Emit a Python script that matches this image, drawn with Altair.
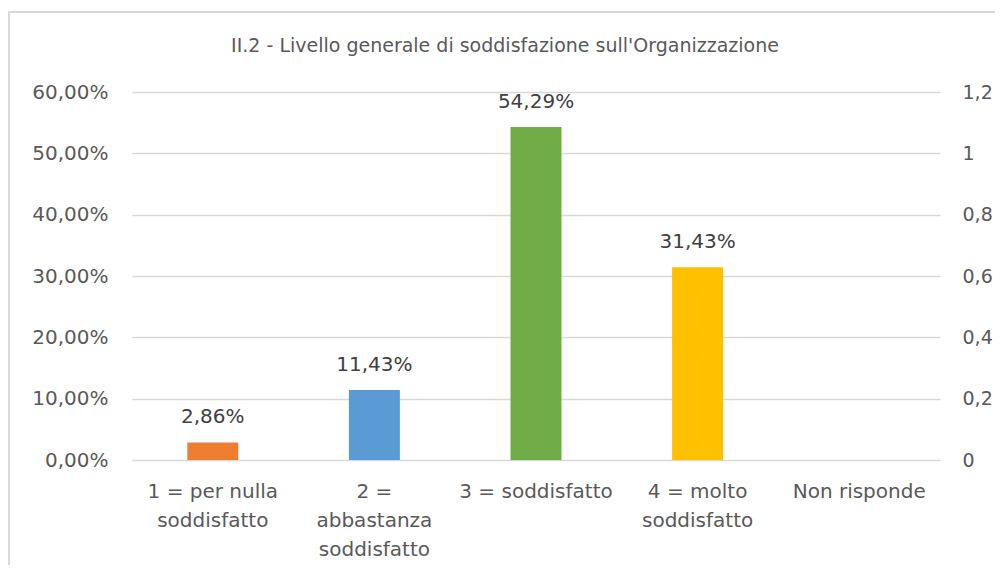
import altair as alt
import pandas as pd

categories = ["1 = per nulla soddisfatto", "2 = abbastanza soddisfatto", "3 = soddisfatto",
              "4 = molto soddisfatto", "Non risponde"]
label_lines = [["1 = per nulla", "soddisfatto"], ["2 =", "abbastanza", "soddisfatto"],
               ["3 = soddisfatto"], ["4 = molto", "soddisfatto"], ["Non risponde"]]
values = [0.0286, 0.1143, 0.5429, 0.3143, 0.0]
labels = ["2,86%", "11,43%", "54,29%", "31,43%", ""]
colors = ["#ED7D31", "#5B9BD5", "#70AD47", "#FFC000", "#A5A5A5"]
left_ticks = [0, 0.1, 0.2, 0.3, 0.4, 0.5, 0.6]
right_ticks = [0, 0.2, 0.4, 0.6, 0.8, 1.0, 1.2]

df = pd.DataFrame({"cat": categories, "value": values, "label": labels})
rdf = pd.DataFrame({"r": right_ticks})

FONT = "DejaVu Sans"
AX = "#595959"
GRID = "#D9D9D9"

label_expr_x = "{" + ", ".join(
    f"'{c}': [" + ", ".join(f"'{l}'" for l in ls) + "]" for c, ls in zip(categories, label_lines)
) + "}[datum.value]"

xenc = alt.X("cat:N", sort=categories, title=None,
             scale=alt.Scale(paddingInner=0, paddingOuter=0),
             axis=alt.Axis(labelAngle=0, labelExpr=label_expr_x, labelFont=FONT, labelFontSize=20,
                           labelColor=AX, labelLineHeight=29, labelPadding=21, ticks=False,
                           domainColor=GRID, domainWidth=1, grid=False, labelLimit=300))

yscale = alt.Scale(domain=[0, 0.6], nice=False, zero=True)

bars = alt.Chart(df).mark_bar(size=51).encode(
    x=xenc,
    y=alt.Y("value:Q", scale=yscale, title=None,
            axis=alt.Axis(values=left_ticks, labelExpr="replace(format(datum.value, '.2%'), '.', ',')",
                          labelFont=FONT, labelFontSize=20, labelColor=AX, labelPadding=24,
                          ticks=False, domain=False, grid=True, gridColor=GRID, gridWidth=1.3)),
    color=alt.Color("cat:N", sort=categories, scale=alt.Scale(domain=categories, range=colors), legend=None),
)

text = alt.Chart(df).transform_filter("datum.value > 0").mark_text(
    font=FONT, fontSize=20, color="#404040", baseline="alphabetic", dy=-19
).encode(
    x=alt.X("cat:N", sort=categories),
    y=alt.Y("value:Q", scale=yscale),
    text="label:N",
)

left = alt.layer(bars, text)

right = alt.Chart(rdf).mark_point(opacity=0).encode(
    y=alt.Y("r:Q", scale=alt.Scale(domain=[0, 1.2], nice=False), title=None,
            axis=alt.Axis(orient="right", values=right_ticks,
                          labelExpr="replace(format(datum.value, '~g'), '.', ',')",
                          labelFont=FONT, labelFontSize=19, labelColor=AX, labelPadding=22,
                          ticks=False, domain=False, grid=False)),
)

frame = alt.Chart(rdf).mark_rect(fill="white", fillOpacity=0, stroke="#D9D9D9", strokeWidth=1.5).encode(
    x=alt.value(-123), x2=alt.value(2000), y=alt.value(-80), y2=alt.value(2000)
)

title = alt.Chart(rdf).transform_filter("datum.r == 0").mark_text(
    text="II.2 - Livello generale di soddisfazione sull'Organizzazione",
    font=FONT, fontSize=19, color=AX, baseline="middle", align="center"
).encode(x=alt.value(373), y=alt.value(-46))

chart = alt.layer(frame, left, right, title).resolve_scale(y="independent").properties(
    width=808, height=368,
    padding={"left": 124, "top": 84, "right": 55, "bottom": 105},
    autosize=alt.AutoSizeParams(type="none"),
).configure_view(stroke=None)

chart.save("out.html", embed_options={"renderer": "svg", "actions": False})
